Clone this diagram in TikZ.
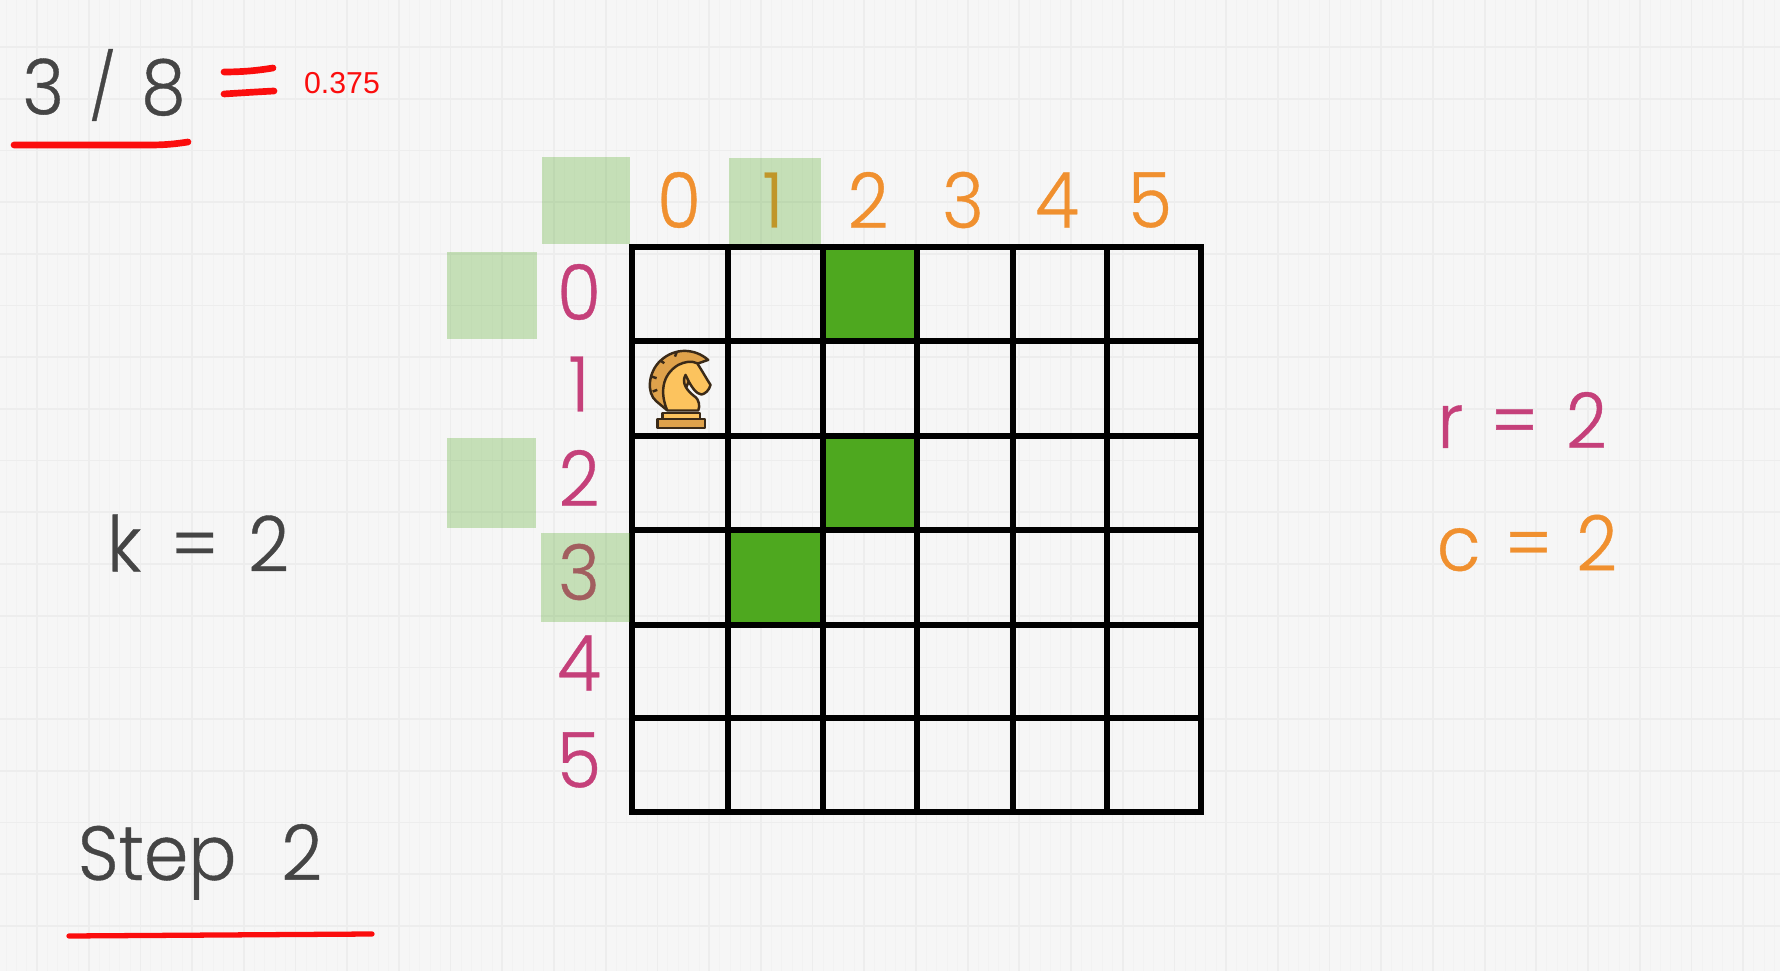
\documentclass[tikz,border=0pt]{standalone}
\usepackage{xcolor}
\usepackage{fontspec}
\usepackage{tikz}
\setmainfont{Poppins Light}[FakeBold=0.5, FakeStretch=0.93]
\newfontfamily\resultfont{Liberation Sans}
\definecolor{paper}{HTML}{F6F6F6}
\definecolor{rule}{HTML}{EDEDED}
\definecolor{finerule}{HTML}{F2F2F2}
\definecolor{slate}{HTML}{454545}
\definecolor{rowpink}{HTML}{C5407A}
\definecolor{colorange}{HTML}{F0902F}
\definecolor{movegreen}{HTML}{4EA81F}
\definecolor{inkred}{HTML}{FB0D0D}
\definecolor{knightbody}{HTML}{FCC35E}
\definecolor{knightmane}{HTML}{DFA24B}
\definecolor{knightline}{HTML}{3A2A18}
\tikzset{
  bigtext/.style={text=slate, inner sep=0pt, font=\fontsize{21.8}{26}\selectfont},
  rowlabel/.style={text=rowpink, inner sep=0pt, font=\fontsize{21.8}{26}\selectfont},
  collabel/.style={text=colorange, inner sep=0pt, font=\fontsize{21.8}{26}\selectfont},
  paleblock/.style={fill=movegreen, fill opacity=0.29, draw=none},
  moveblock/.style={fill=movegreen, draw=none},
  redstroke/.style={draw=inkred, line width=1.9pt, line cap=round, line join=round},
  gridline/.style={draw=black, line width=1.45pt},
  gridframe/.style={draw=black, line width=1.8pt, line join=miter},
  knightpart/.style={draw=knightline, line width=0.7pt, line join=round}
}
\begin{document}
\begin{tikzpicture}[x=0.01cm, y=-0.01cm]
            \useasboundingbox (0, 0) rectangle (1780, 971);
            \fill[paper] (0, 0) rectangle (1780, 971);

            \draw[finerule, line width=0.15pt, xstep=10.34, ystep=10.34, shift={(-14.7, -5)}] (0, -971) grid (1800, 0);
            \draw[finerule, line width=0.15pt, xstep=10.34, ystep=10.34, shift={(-14.7, -5)}] (0, 0) grid (1800, 980);
            \foreach \xline in {0, ..., 34} {
              \draw[rule, line width=0.5pt] ({37 + 51.7 * (\xline - 1)}, 0) -- ({37 + 51.7 * (\xline - 1)}, 971);
            }
            \foreach \yline in {0, ..., 19} {
              \draw[rule, line width=0.5pt] (0, {47 + 51.7 * (\yline - 1)}) -- (1780, {47 + 51.7 * (\yline - 1)});
            }

            \fill[moveblock] (824, 247) rectangle (916, 341); % (2,0)
            \fill[moveblock] (824, 436) rectangle (916, 530); % (2,2)
            \fill[moveblock] (729, 530) rectangle (821, 624); % (1,3)

            \draw[gridline] (728, 247) -- (728, 812);
            \draw[gridline] (823, 247) -- (823, 812);
            \draw[gridline] (917, 247) -- (917, 812);
            \draw[gridline] (1013, 247) -- (1013, 812);
            \draw[gridline] (1107, 247) -- (1107, 812);
            \draw[gridline] (632, 341) -- (1201, 341);
            \draw[gridline] (632, 436) -- (1201, 436);
            \draw[gridline] (632, 530) -- (1201, 530);
            \draw[gridline] (632, 625) -- (1201, 625);
            \draw[gridline] (632, 718) -- (1201, 718);
            \draw[gridframe] (632, 247) rectangle (1201, 812);

            \node[collabel] (col0) at (679, 200) {0};
            \node[collabel] (col1) at (773, 200) {1};
            \node[collabel] (col2) at (868, 200) {2};
            \node[collabel] (col3) at (963, 200) {3};
            \node[collabel] (col4) at (1057, 200) {4};
            \node[collabel] (col5) at (1150, 200) {5};
            \node[rowlabel] (row0) at (579, 292) {0};
            \node[rowlabel] (row1) at (579, 384) {1};
            \node[rowlabel] (row2) at (579, 478) {2};
            \node[rowlabel] (row3) at (579, 572) {3};
            \node[rowlabel] (row4) at (579, 663) {4};
            \node[rowlabel] (row5) at (579, 760) {5};

            \fill[paleblock] (542, 157) rectangle (630, 244); % corner
            \fill[paleblock] (729, 158) rectangle (821, 244); % col 1
            \fill[paleblock] (447, 252) rectangle (537, 339); % row 0
            \fill[paleblock] (447, 438) rectangle (536, 528); % row 2
            \fill[paleblock] (541, 533) rectangle (630, 622); % row 3

            % knight, in the units of a 3x crop
            \begin{scope}[shift={(620, 320)}, x=0.003333cm, y=-0.003333cm]
              \draw[knightpart, fill=knightmane]
                (265, 120) .. controls (225, 85) and (165, 82) .. (122, 122)
                .. controls (85, 155) and (78, 220) .. (110, 245) -- (140, 270)
                -- (200, 200) -- (230, 132) -- cycle;
              \draw[knightpart, fill=knightbody]
                (142, 272) .. controls (120, 220) and (125, 165) .. (175, 135)
                .. controls (195, 125) and (215, 122) .. (232, 130)
                .. controls (245, 150) and (262, 180) .. (272, 195)
                .. controls (268, 212) and (255, 222) .. (245, 224)
                .. controls (230, 222) and (215, 205) .. (197, 165)
                .. controls (182, 190) and (205, 215) .. (222, 228)
                .. controls (240, 240) and (240, 260) .. (235, 272) -- cycle;
              \draw[knightpart] (122, 122) -- (133, 130); % mane ticks
              \draw[knightpart] (95, 170) -- (110, 175);
              \draw[knightpart] (98, 215) -- (112, 210);
              \draw[knightpart] (170, 98) -- (165, 110);
              \draw[knightpart, fill=knightbody] (127, 280) rectangle (240, 298);
              \draw[knightpart, fill=knightmane] (113, 298) rectangle (255, 325);
            \end{scope}

            \node[bigtext] (fraction) at (104, 85) {3\hspace{1.6pt} \raisebox{1.2pt}{\fontsize{18.5}{20}\selectfont /} \hspace{1.6pt}8};
            \node[text=inkred, inner sep=0pt, font=\resultfont\fontsize{8.6}{10}\selectfont] (ratio) at (342, 83) {0.375};
            \node[bigtext] (kvalue) at (198, 543) {k\hspace{2.8pt} = \hspace{2.8pt}2};
            \node[bigtext, anchor=base] (steplabel) at (200, 880) {Step\,\,\hspace{5.5pt}2};
            \node[rowlabel] (rvalue) at (1522, 420) {r\hspace{2.2pt} = \hspace{2.2pt}2};
            \node[collabel] (cvalue) at (1527, 543) {c\hspace{1.2pt} = \hspace{1.2pt}2};

            \draw[redstroke] (14, 145) -- (150, 145) .. controls (165, 145) and (175, 144) .. (188, 142); % under fraction
            \draw[redstroke] (224, 72) .. controls (240, 72) and (255, 71) .. (273, 68); % equals top
            \draw[redstroke] (224, 94) .. controls (240, 93) and (255, 92) .. (274, 91); % equals bottom
            \draw[redstroke, line width=1.5pt] (69, 936) -- (372, 934); % under step
        \end{tikzpicture}
\end{document}
